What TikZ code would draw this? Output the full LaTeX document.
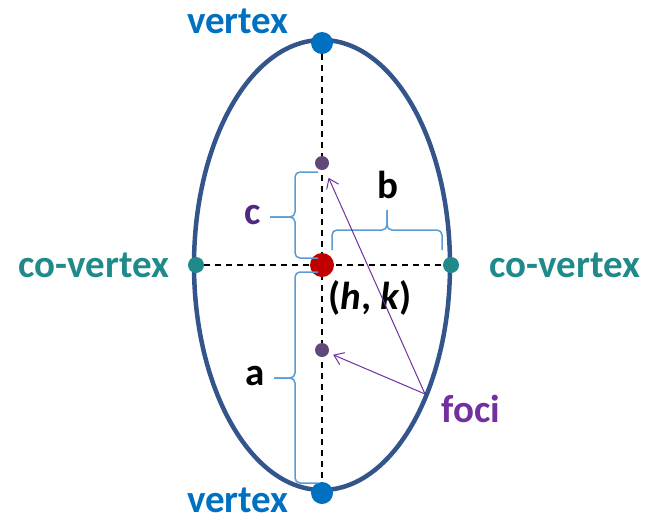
\documentclass[tikz,border=0pt]{standalone}
\usepackage{fontspec}
\setmainfont{Carlito}
\usetikzlibrary{arrows.meta,backgrounds,positioning}
\definecolor{ellblue}{RGB}{52,85,140}
\definecolor{vtxblue}{RGB}{0,112,192}
\definecolor{covteal}{RGB}{32,138,138}
\definecolor{ctrred}{RGB}{192,0,0}
\definecolor{focdot}{RGB}{96,73,122}
\definecolor{focpurple}{RGB}{112,48,160}
\definecolor{cpurple}{RGB}{80,40,130}
\definecolor{brcblue}{RGB}{91,155,213}

\begin{document}
\begin{tikzpicture}[x=1pt, y=-1pt, >={Straight Barb[length=9pt,width=13pt]},
	every node/.style={font=\fontsize{39}{44}\selectfont\bfseries},
	dot/.style={circle, fill, inner sep=0pt, minimum size=#1},
	brc/.style={draw=brcblue, line width=1.5pt, rounded corners=5pt},
	axisline/.style={line width=1.6pt, dash pattern=on 6pt off 5pt}]
	\useasboundingbox (0,0) rectangle (648,523);
	% points on the ellipse and its axes
	\node[dot=22pt, fill=vtxblue] (vt) at (322,43)  {};
	\node[dot=22pt, fill=vtxblue] (vb) at (322,493) {};
	\node[dot=16pt, fill=covteal] (cl) at (196,265) {};
	\node[dot=16pt, fill=covteal] (cr) at (451,265) {};
	\node[dot=24pt, fill=ctrred]  (ctr) at (322,265) {};
	\node[dot=14pt, fill=focdot]  (f1) at (322,163) {};
	\node[dot=14pt, fill=focdot]  (f2) at (322,350) {};
	\begin{scope}[on background layer]
		\draw[ellblue, line width=4.5pt] (ctr) ellipse (128 and 225);
		\draw[axisline] (vt) -- (vb);
		\draw[axisline] (cl) -- (cr);
	\end{scope}
	% labels
	\node[text=vtxblue] (lvt) at (238,21)  {vertex};
	\node[text=vtxblue, anchor=base, inner sep=0pt] (lvb) at (238,512) {vertex};
	\node[text=covteal] (lcl) at (94,265)  {co-vertex};
	\node[text=covteal] (lcr) at (565,265) {co-vertex};
	\node (lhk) at (370,298) {(\textit{h}, \textit{k})};
	\node[text=cpurple] (lc) at (253,215) {c};
	\node (lb) at (388,185) {b};
	\node (la) at (255,376) {a};
	\node[text=focpurple] (lfoci) at (471,409) {foci};
	\coordinate (fo) at (425,394);
	% braces
	\draw[brc] (318,172) -- (295,172) -- (295,217) -- (270,217);
	\draw[brc] (318,258) -- (295,258) -- (295,217) -- (270,217);
	\draw[brc] (332,250) -- (332,230) -- (387,230) -- (387,210);
	\draw[brc] (442,250) -- (442,230) -- (387,230) -- (387,210);
	\draw[brc] (318,272) -- (295,272) -- (295,378) -- (274,378);
	\draw[brc] (318,483) -- (295,483) -- (295,378) -- (274,378);
	% arrows to the foci
	\draw[->, focpurple, line width=1pt, shorten >=9pt] (fo) -- (f1);
	\draw[->, focpurple, line width=1pt, shorten >=5pt] (fo) -- (f2);
\end{tikzpicture}
\end{document}
